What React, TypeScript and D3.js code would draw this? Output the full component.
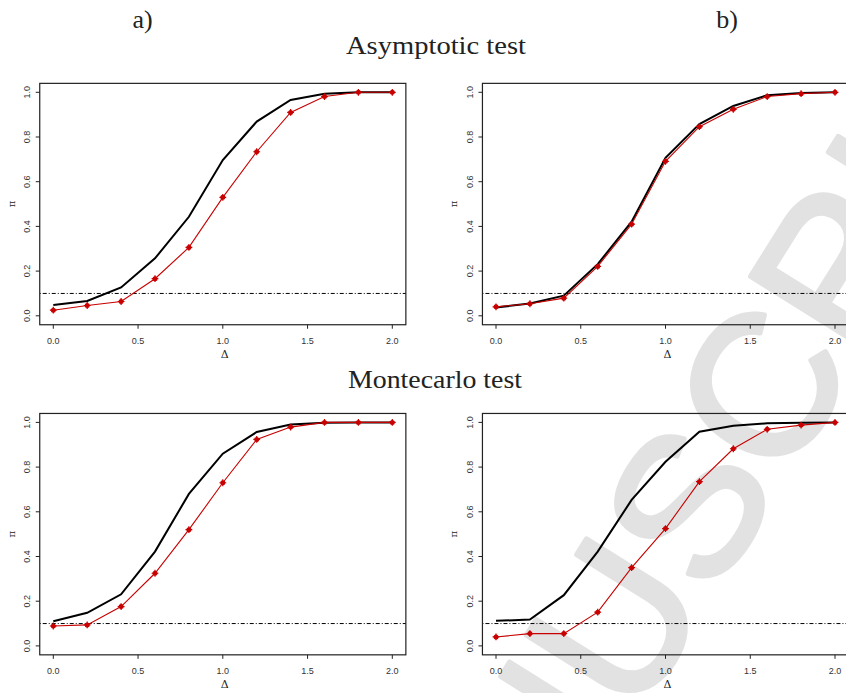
import React from "react";
import * as d3 from "d3";

// power curves
const delta = [0, 0.2, 0.4, 0.6, 0.8, 1.0, 1.2, 1.4, 1.6, 1.8, 2.0];

const asymA_black = [0.048, 0.066, 0.127, 0.257, 0.443, 0.697, 0.869, 0.966, 0.993, 1.0, 1.0];
const asymA_red = [0.025, 0.046, 0.064, 0.166, 0.306, 0.53, 0.734, 0.91, 0.981, 1.0, 1.0];
const asymB_black = [0.037, 0.055, 0.09, 0.231, 0.421, 0.707, 0.858, 0.939, 0.987, 0.997, 1.0];
const asymB_red = [0.04, 0.054, 0.079, 0.221, 0.41, 0.691, 0.846, 0.924, 0.981, 0.994, 1.0];
const mcA_black = [0.11, 0.148, 0.231, 0.422, 0.68, 0.86, 0.957, 0.991, 0.998, 1.0, 1.0];
const mcA_red = [0.089, 0.094, 0.176, 0.325, 0.52, 0.73, 0.924, 0.979, 1.0, 1.0, 1.0];
const mcB_black = [0.112, 0.118, 0.227, 0.422, 0.653, 0.824, 0.958, 0.985, 0.996, 0.998, 1.0];
const mcB_red = [0.04, 0.055, 0.055, 0.151, 0.35, 0.525, 0.735, 0.882, 0.969, 0.988, 1.0];

const xTicks = [0, 0.5, 1.0, 1.5, 2.0];
const yTicks = [0, 0.2, 0.4, 0.6, 0.8, 1.0];
const nominal = 0.1;

const W = 339; // data area width (0..2)
const H = 223.5; // data area height (0..1)
const RED = "#c80000";

const Panel = ({ left, top, black, red }) => {
  const x = d3.scaleLinear().domain([0, 2]).range([left, left + W]);
  const y = d3.scaleLinear().domain([0, 1]).range([top + H, top]);
  // R style 4% padding
  const bx0 = x(-0.08), bx1 = x(2.08);
  const by0 = y(1.04), by1 = y(-0.04);

  const line = d3.line<number>()
    .x((d, i) => x(delta[i]))
    .y(d => y(d));

  const fmt = d3.format(".1f");

  return (
    <g>
      {/* nominal level */}
      <line x1={bx0} x2={bx1} y1={y(nominal)} y2={y(nominal)}
        stroke="#000" strokeWidth={1} strokeDasharray="1 2 4 2" />

      <path d={line(black)} fill="none" stroke="#000" strokeWidth={2} />
      <path d={line(red)} fill="none" stroke={RED} strokeWidth={1.1} />
      {red.map((d, i) => (
        <g key={i} transform={`translate(${x(delta[i])},${y(d)})`}>
          <circle r={2.5} fill={RED} />
          <path d="M-3.4,0H3.4M0,-3.4V3.4" stroke={RED} strokeWidth={1.2} />
        </g>
      ))}

      <rect x={bx0} y={by0} width={bx1 - bx0} height={by1 - by0}
        fill="none" stroke="#222" strokeWidth={1.2} />

      {/* x axis */}
      {xTicks.map(t => (
        <g key={t}>
          <line x1={x(t)} x2={x(t)} y1={by1} y2={by1 + 4} stroke="#222" />
          <text x={x(t)} y={by1 + 19.5} fontSize={9} textAnchor="middle"
            fontFamily="Liberation Sans, Arial, sans-serif" fill="#333">{fmt(t)}</text>
        </g>
      ))}
      <text x={(bx0 + bx1) / 2 + 2} y={by1 + 33} fontSize={11} textAnchor="middle"
        fontFamily="DejaVu Serif, serif" fill="#222">Δ</text>

      {/* y axis */}
      {yTicks.map(t => (
        <g key={t}>
          <line x1={bx0} x2={bx0 - 4} y1={y(t)} y2={y(t)} stroke="#222" />
          <text transform={`translate(${bx0 - 9.5},${y(t)}) rotate(-90)`} fontSize={9}
            textAnchor="middle" fontFamily="Liberation Sans, Arial, sans-serif" fill="#333">{fmt(t)}</text>
        </g>
      ))}
      <text transform={`translate(${bx0 - 25},${(by0 + by1) / 2}) rotate(-90)`} fontSize={10}
        textAnchor="middle" fontFamily="DejaVu Serif, serif" fill="#222">π</text>
    </g>
  );
};

const panels = [
  { key: "aa", left: 53.3, top: 92.3, black: asymA_black, red: asymA_red },
  { key: "ab", left: 496, top: 92.3, black: asymB_black, red: asymB_red },
  { key: "ma", left: 53.3, top: 422.4, black: mcA_black, red: mcA_red },
  { key: "mb", left: 496, top: 422.4, black: mcB_black, red: mcB_red },
];

const WM = 200; // watermark font size

export default function App() {
  const serif = "Liberation Serif, Times New Roman, serif";
  return (
    <svg width={846} height={693} style={{ position: "absolute", left: 0, top: 0, background: "#fff" }}>
      {/* watermark, anchored on the centre of the "U" */}
      <g transform="translate(612,622) rotate(-58)">
        <text x={-8.306 * WM} y={0.36 * WM} fontSize={WM}
          fontFamily="Liberation Sans, Arial, sans-serif" fill="#e2e2e2"
          stroke="#e2e2e2" strokeWidth={5} strokeLinejoin="round">ACCEPTED MANUSCRIPT</text>
      </g>

      <text x={142.5} y={28} fontSize={26} textAnchor="middle" fontFamily={serif} fill="#222">a)</text>
      <text x={727} y={28} fontSize={26} textAnchor="middle" fontFamily={serif} fill="#222">b)</text>
      <text x={436} y={54} fontSize={26} textAnchor="middle" fontFamily={serif} fill="#222"
        textLength={180} lengthAdjust="spacingAndGlyphs">Asymptotic test</text>
      <text x={435} y={388} fontSize={26} textAnchor="middle" fontFamily={serif} fill="#222"
        textLength={174} lengthAdjust="spacingAndGlyphs">Montecarlo test</text>

      {panels.map(p => <Panel key={p.key} {...p} />)}
    </svg>
  );
}
